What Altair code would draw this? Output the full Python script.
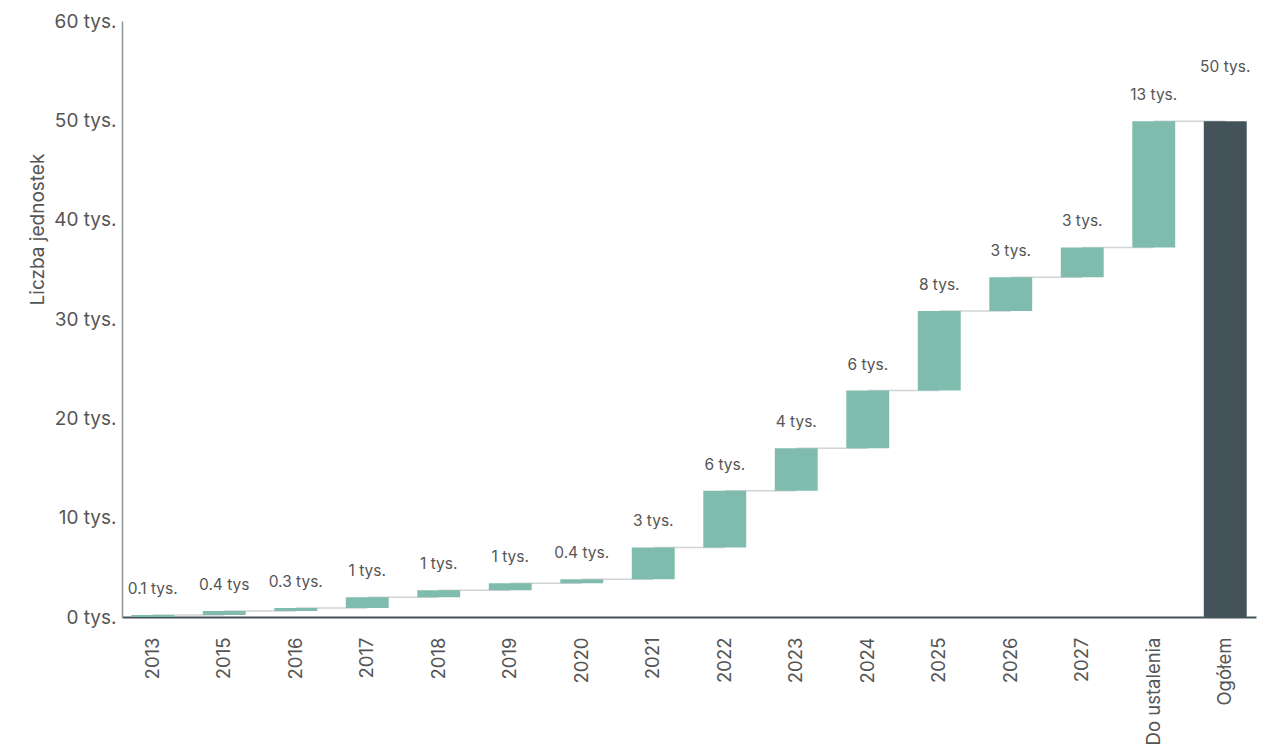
import altair as alt
import pandas as pd

categories = ["2013", "2015", "2016", "2017", "2018", "2019", "2020", "2021",
              "2022", "2023", "2024", "2025", "2026", "2027", "Do ustalenia", "Ogółem"]
increments = [0.2, 0.4, 0.3, 1.1, 0.7, 0.7, 0.4, 3.2, 5.7, 4.3, 5.8, 8.0, 3.4, 3.0, 12.7, None]
labels = ["0.1 tys.", "0.4 tys", "0.3 tys.", "1 tys.", "1 tys.", "1 tys.", "0.4 tys.", "3 tys.",
          "6 tys.", "4 tys.", "6 tys.", "8 tys.", "3 tys.", "3 tys.", "13 tys.", "50 tys."]
y_ticks = [0, 10, 20, 30, 40, 50, 60]

rows = []
cum = 0.0
for i, c in enumerate(categories):
    if increments[i] is None:
        start, end, kind = 0.0, cum, "total"
    else:
        start, end, kind = cum, cum + increments[i], "step"
        cum = end
    rows.append({"cat": c, "start": start, "end": end, "kind": kind, "label": labels[i],
                 "next": categories[i + 1] if i + 1 < len(categories) else None})
df = pd.DataFrame(rows)

x_scale = alt.Scale(paddingInner=0.4, paddingOuter=0.13)
x_enc = alt.X("cat:N", sort=categories, title=None, scale=x_scale,
              axis=alt.Axis(labelAngle=270, labelFontSize=18.5, labelColor="#555",
                            labelFont="Inter", labelPadding=20, ticks=False,
                            domainColor="#44545a", domainWidth=2, labelBaseline="middle",
                            labelAlign="right"))
y_scale = alt.Scale(domain=[0, 60], nice=False)

base = alt.Chart(df)

rules = base.transform_filter("datum.next != null").mark_rule(
    color="#cfd4d6", strokeWidth=1.5
).encode(
    x=alt.X("cat:N", sort=categories),
    x2="next:N",
    y=alt.Y("end:Q", scale=y_scale),
)

bars = base.mark_bar().encode(
    x=x_enc,
    y=alt.Y("start:Q", scale=y_scale, title="Liczba jednostek",
            axis=alt.Axis(values=y_ticks, labelExpr="datum.value + ' tys.'",
                          labelFontSize=19, labelColor="#555", labelFont="Inter",
                          titleFontSize=19, titleColor="#555", titleFont="Inter",
                          titleFontWeight="normal", titleX=-85, titleY=208,
                          titleBaseline="middle", titleAlign="center", titleAngle=270,
                          labelPadding=6,
                          ticks=False, grid=False, domainColor="#8a9597", domainWidth=1.5)),
    y2="end:Q",
    color=alt.Color("kind:N", scale=alt.Scale(domain=["step", "total"],
                                              range=["#7fbcad", "#435359"]), legend=None),
)

text_steps = base.transform_filter("datum.kind == 'step'").mark_text(
    dy=-26, fontSize=15.5, color="#555", font="Inter"
).encode(
    x=alt.X("cat:N", sort=categories),
    y=alt.Y("end:Q", scale=y_scale),
    text="label:N",
)

text_total = base.transform_filter("datum.kind == 'total'").mark_text(
    dy=-54, fontSize=15.5, color="#555", font="Inter"
).encode(
    x=alt.X("cat:N", sort=categories),
    y=alt.Y("end:Q", scale=y_scale),
    text="label:N",
)

chart = alt.layer(rules, bars, text_steps, text_total).properties(
    width=1134, height=596,
    padding={"left": 20, "top": 4, "right": 5, "bottom": 5},
).configure_view(stroke=None)

chart.save("out.html", embed_options={"renderer": "svg", "actions": False})
